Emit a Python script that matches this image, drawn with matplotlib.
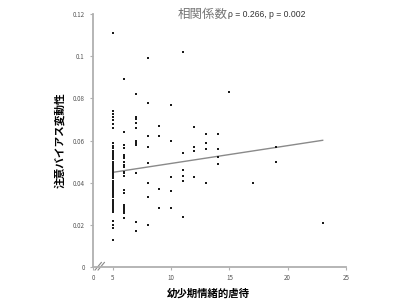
import numpy as np
import matplotlib
matplotlib.use("Agg")
import matplotlib.pyplot as plt

plt.rcParams['font.family'] = ['Noto Sans CJK JP', 'DejaVu Sans']

# emotional abuse score (x) -> attention bias variability values (y)
groups = {
    5: [0.111, 0.074, 0.0725, 0.071, 0.0695, 0.068, 0.066, 0.059, 0.0575, 0.0565,
        0.055, 0.054, 0.053, 0.052, 0.051, 0.050, 0.049, 0.048, 0.047, 0.046,
        0.045, 0.044, 0.043, 0.042, 0.041, 0.040, 0.039, 0.038, 0.037, 0.036,
        0.035, 0.034, 0.033, 0.032, 0.031, 0.030, 0.029, 0.028, 0.027, 0.026,
        0.022, 0.020, 0.0185, 0.013],
    6: [0.089, 0.064, 0.058, 0.0565, 0.053, 0.0523, 0.0516, 0.050, 0.0484, 0.0476,
        0.0452, 0.0444, 0.0432, 0.0365, 0.035, 0.0294, 0.0286, 0.0278, 0.027,
        0.0262, 0.0255, 0.0231],
    7: [0.082, 0.0713, 0.070, 0.0685, 0.066, 0.060, 0.059, 0.0577, 0.0444, 0.0215, 0.0172],
    8: [0.099, 0.078, 0.062, 0.057, 0.0492, 0.040, 0.033, 0.020],
    9: [0.067, 0.062, 0.0368, 0.028],
    10: [0.0768, 0.060, 0.0428, 0.036, 0.0278],
    11: [0.102, 0.054, 0.046, 0.0432, 0.0408, 0.0239],
    12: [0.0663, 0.057, 0.055, 0.0428],
    13: [0.063, 0.059, 0.056, 0.040],
    14: [0.063, 0.056, 0.052, 0.049],
    15: [0.083],
    17: [0.040],
    19: [0.057, 0.050],
    23: [0.021],
}
fit_x = [5, 23]
fit_y = [0.0449, 0.0601]

x_ticks = [5, 10, 15, 20, 25]
y_ticks = [0, 0.02, 0.04, 0.06, 0.08, 0.10, 0.12]
y_ticklabels = ["0", "0.02", "0.04", "0.06", "0.08", "0.1", "0.12"]
x_zero = 3.3  # where the broken axis shows "0"

xs = [k for k, v in groups.items() for _ in v]
ys = [y for v in groups.values() for y in v]

fig = plt.figure(figsize=(4, 3), dpi=100, facecolor="white")
ax = fig.add_axes([0.2325, 0.11, 0.6325, 0.8433])

ax.scatter(xs, ys, marker="s", s=1.4, color="#1a1a1a", linewidths=0, zorder=3)
ax.plot(fit_x, fit_y, color="#8a8a8a", lw=1.0, zorder=2)

ax.set_xlim(x_zero, 25)
ax.set_ylim(0, 0.12)
ax.set_xticks([x_zero] + x_ticks)
ax.set_xticklabels(["0"] + [str(t) for t in x_ticks])
ax.set_yticks(y_ticks)
ax.set_yticklabels(y_ticklabels)

for side in ["top", "right"]:
    ax.spines[side].set_visible(False)
for side in ["left", "bottom"]:
    ax.spines[side].set_color("#b0b0b0")
    ax.spines[side].set_linewidth(1.3)
ax.tick_params(axis="both", colors="#b0b0b0", labelcolor="#555555",
               labelsize=4.5, length=2, width=0.8)
ax.tick_params(axis="x", pad=3)
ax.tick_params(axis="y", pad=4)

# axis break marks
for dx in (0.008, 0.020):
    ax.plot([dx, dx + 0.025], [-0.012, 0.018], transform=ax.transAxes,
            color="#888888", lw=0.8, clip_on=False)

ax.set_xlabel("幼少期情緒的虐待", fontsize=7.5, fontweight="bold", va="center")
ax.set_ylabel("注意バイアス変動性", fontsize=7.7, fontweight="bold", va="center")
ax.xaxis.set_label_coords(0.455, -0.103)
ax.yaxis.set_label_coords(-0.13, 0.5)

t1 = fig.text(0.445, 0.952, "相関係数", fontsize=9, color="#777777", va="center")
ax.annotate("ρ = 0.266, p = 0.002", xy=(1, 0.5), xycoords=t1, va="center",
            fontsize=6.2, color="#333333", family=["Liberation Sans", "DejaVu Sans"])

fig.savefig("out.png", dpi=100, facecolor="white")
